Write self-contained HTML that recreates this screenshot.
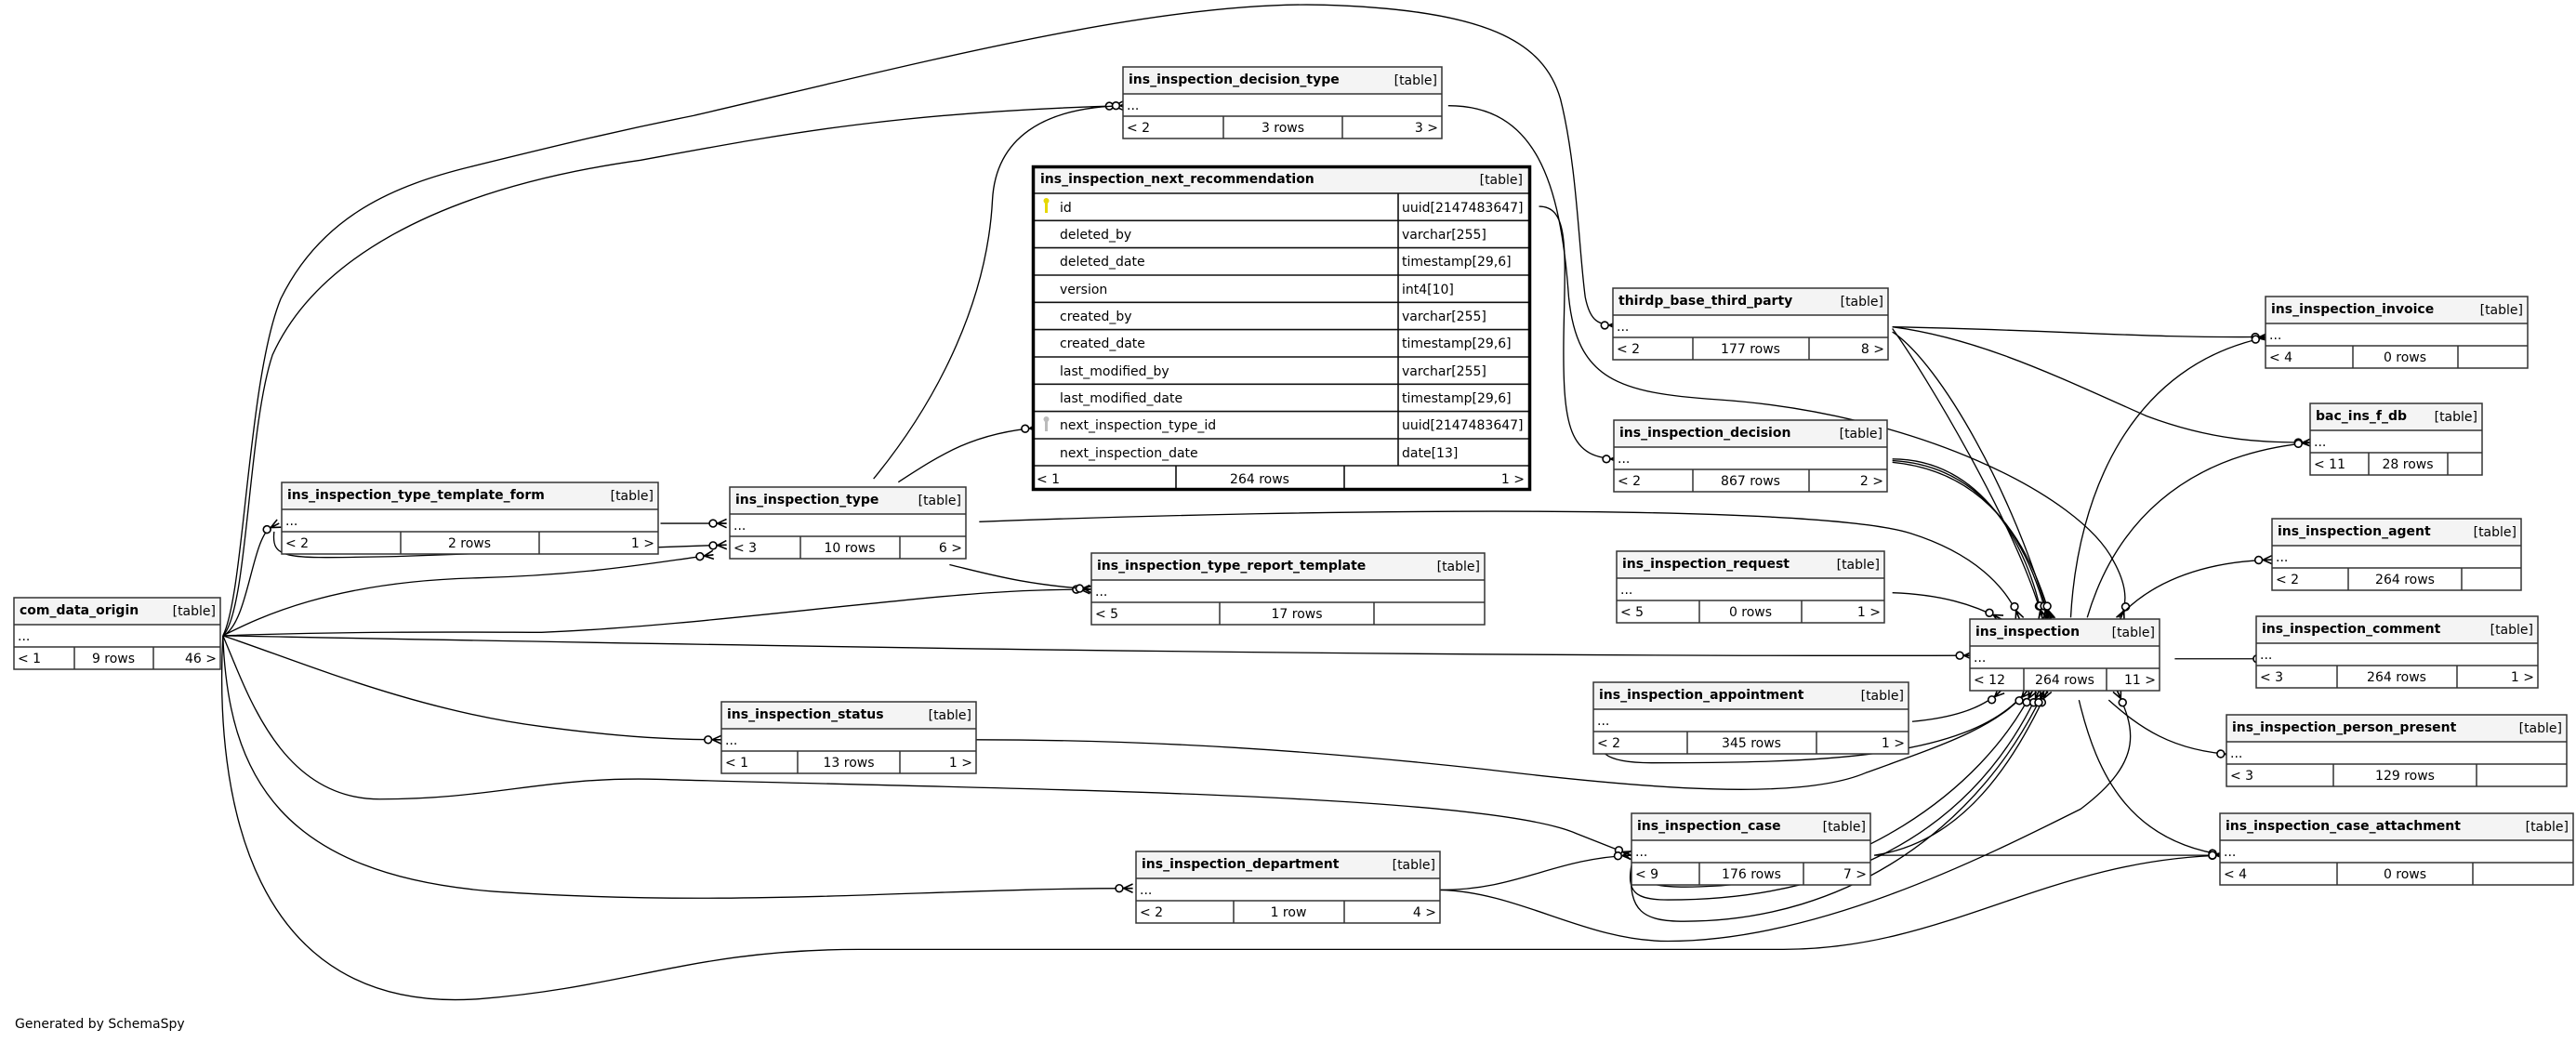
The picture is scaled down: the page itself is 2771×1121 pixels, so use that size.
<!DOCTYPE html>
<html><head><meta charset="utf-8"><style>
html,body{margin:0;padding:0;background:#fff;}
svg{display:block;}
text{font-family:"DejaVu Sans","Liberation Sans",sans-serif;font-size:14px;fill:#000;}
.h{font-weight:bold;}
.t{fill:#f4f4f4;stroke:none;}
.b{fill:none;stroke:#333;stroke-width:1.5;}
.e path{fill:none;stroke:#000;stroke-width:0.75;}
</style></head><body>
<svg width="2771" height="1121" viewBox="0 0 2771 1121" xmlns="http://www.w3.org/2000/svg">
<defs>
<marker id="cf" markerUnits="userSpaceOnUse" viewBox="-12 -4 13 8" refX="0" refY="0" markerWidth="13" markerHeight="8" orient="auto">
<circle cx="-8.2" cy="0" r="2.2" fill="#fff" stroke="#000" stroke-width="0.9"/>
<path d="M-5.6,0 L0,-2.6 M-5.6,0 L0,0 M-5.6,0 L0,2.6" stroke="#000" stroke-width="0.9" fill="none"/>
</marker>
</defs>
<rect width="2771" height="1121" fill="#fff"/>

<g class="e" transform="scale(1.7763)">
<!-- com_data_origin edges -->
<path marker-end="url(#cf)" d="M135,385 C148,360 150,230 170,181 C195,130 240,112 285,101 C350,85 380,78 420,70 C550,40 700,0 802,3 C900,6 935,25 945,60 C955,100 956,150 960,180 C963,195 968,197 980,197"/>
<path marker-end="url(#cf)" d="M135,385 C150,370 150,260 165,215 C190,160 260,115 388,97 C470,82 540,68 680,64"/>
<path marker-end="url(#cf)" d="M135,385 C150,378 152,330 163,320 L169,317"/>
<path marker-end="url(#cf)" d="M135,385 C155,375 200,352 290,350 C360,348 400,340 432,336"/>
<path marker-end="url(#cf)" d="M135,385 C220,382 300,383 328,383 C400,380 480,370 543,364 C600,358 630,357 660,357"/>
<path marker-end="url(#cf)" d="M135,385 C400,390 800,398 1195,397"/>
<path marker-end="url(#cf)" d="M135,385 C180,400 250,430 328,440 C380,447 410,448 437,448"/>
<path marker-end="url(#cf)" d="M135,385 C150,420 170,484 230,484 C300,484 330,470 400,472 C600,478 900,480 955,505 L988,518"/>
<path marker-end="url(#cf)" d="M135,385 C138,470 170,530 300,540 C450,550 560,538 686,538"/>
<path marker-end="url(#cf)" d="M135,385 C130,480 150,615 290,605 C380,598 420,575 520,575 L1080,575 C1180,575 1240,520 1348,518"/>
<!-- template / type -->
<path marker-end="url(#cf)" d="M400,317 L440,317"/>
<path marker-end="url(#cf)" d="M166,322 C164,340 175,338 240,337 C330,334 400,332 440,330"/>
<path marker-end="url(#cf)" d="M529,290 C570,240 598,180 601,121 C603,85 630,64 684,64"/>
<path marker-end="url(#cf)" d="M544,292 C570,275 590,262 629,259"/>
<path marker-end="url(#cf)" d="M575,342 C600,348 620,354 662,357"/>
<path marker-end="url(#cf)" d="M593,316 C800,308 1100,305 1157,323 C1195,335 1215,355 1223,375"/>
<!-- decision_type / next_rec -->
<path marker-end="url(#cf)" d="M877,64 C930,64 945,110 950,180 C955,230 980,238 1040,242 C1160,250 1260,300 1280,340 C1290,358 1287,368 1284,375"/>
<path marker-end="url(#cf)" d="M932,125 C950,125 948,150 947,200 C946,260 950,278 981,278"/>
<!-- thirdp -->
<path marker-end="url(#cf)" d="M1146,198 C1250,200 1300,205 1374,204"/>
<path marker-end="url(#cf)" d="M1146,198 C1200,205 1250,230 1300,252 C1340,267 1370,268 1400,268"/>
<path marker-end="url(#cf)" d="M1146,199 C1165,225 1222,320 1237,375"/>
<path marker-end="url(#cf)" d="M1146,201 C1175,220 1220,300 1241,375"/>
<!-- decision -->
<path marker-end="url(#cf)" d="M1146,278 C1200,278 1228,330 1237,375"/>
<path marker-end="url(#cf)" d="M1146,279 C1205,282 1230,335 1240,375"/>
<path marker-end="url(#cf)" d="M1146,280 C1210,286 1232,340 1242,375"/>
<!-- request -->
<path marker-end="url(#cf)" d="M1146,359 C1175,360 1195,366 1212,375"/>
<!-- ins_inspection children -->
<path marker-end="url(#cf)" d="M1254,374 C1258,300 1290,220 1374,204"/>
<path marker-end="url(#cf)" d="M1264,374 C1280,320 1320,275 1400,268"/>
<path marker-end="url(#cf)" d="M1283,374 C1300,355 1330,340 1376,339"/>
<path marker-end="url(#cf)" d="M1317,399 L1375,399"/>
<path marker-end="url(#cf)" d="M1277,424 C1295,440 1315,455 1353,457"/>
<path marker-end="url(#cf)" d="M1259,424 C1270,470 1290,510 1348,518"/>
<!-- department -->
<path marker-end="url(#cf)" d="M872,539 C920,539 940,520 988,518"/>
<path marker-end="url(#cf)" d="M872,539 C920,540 960,570 1010,570 C1100,570 1200,520 1260,490 C1300,460 1292,440 1282,418"/>
<!-- case -->
<path marker-end="url(#cf)" d="M1135,518 L1348,518"/>
<path marker-end="url(#cf)" d="M1135,518 C1190,510 1220,460 1240,418"/>
<path marker-end="url(#cf)" d="M990,522 C992,535 1000,538 1030,537 C1120,535 1200,480 1231,418"/>
<path marker-end="url(#cf)" d="M988,524 C985,540 990,545 1010,545 C1100,545 1190,515 1235,418"/>
<path marker-end="url(#cf)" d="M988,526 C986,552 995,558 1020,558 C1120,558 1200,500 1238,418"/>
<!-- appointment -->
<path marker-end="url(#cf)" d="M1158,437 C1180,435 1200,430 1212,418"/>
<path marker-end="url(#cf)" d="M1225,421 C1190,460 1100,462 1000,462 C970,462 966,455 969,440"/>
<!-- status -->
<path marker-end="url(#cf)" d="M591,448 C700,448 800,455 900,466 C1000,478 1090,485 1130,468 C1180,450 1210,440 1228,418"/>
</g>

<g id="tables">
<rect x="15" y="643" width="222" height="77" fill="#fff"/><rect class="t" x="15" y="643" width="222" height="29"/>
<rect class="b" x="15" y="643" width="222" height="77"/><path class="b" d="M15,672H237M15,696H237M80,696V720M165,696V720"/>
<text class="h" x="21" y="661">com_data_origin</text><text x="232" y="662" text-anchor="end">[table]</text>
<text x="19" y="689">...</text><text x="19" y="713">&lt; 1</text><text x="122" y="713" text-anchor="middle">9 rows</text><text x="233" y="713" text-anchor="end">46 &gt;</text>

<rect x="303" y="519" width="405" height="77" fill="#fff"/><rect class="t" x="303" y="519" width="405" height="29"/>
<rect class="b" x="303" y="519" width="405" height="77"/><path class="b" d="M303,548H708M303,572H708M431,572V596M580,572V596"/>
<text class="h" x="309" y="537">ins_inspection_type_template_form</text><text x="703" y="538" text-anchor="end">[table]</text>
<text x="307" y="565">...</text><text x="307" y="589">&lt; 2</text><text x="505" y="589" text-anchor="middle">2 rows</text><text x="704" y="589" text-anchor="end">1 &gt;</text>

<rect x="785" y="524" width="254" height="77" fill="#fff"/><rect class="t" x="785" y="524" width="254" height="29"/>
<rect class="b" x="785" y="524" width="254" height="77"/><path class="b" d="M785,553H1039M785,577H1039M861,577V601M968,577V601"/>
<text class="h" x="791" y="542">ins_inspection_type</text><text x="1034" y="543" text-anchor="end">[table]</text>
<text x="789" y="570">...</text><text x="789" y="594">&lt; 3</text><text x="914" y="594" text-anchor="middle">10 rows</text><text x="1035" y="594" text-anchor="end">6 &gt;</text>

<rect x="1174" y="595" width="423" height="77" fill="#fff"/><rect class="t" x="1174" y="595" width="423" height="29"/>
<rect class="b" x="1174" y="595" width="423" height="77"/><path class="b" d="M1174,624H1597M1174,648H1597M1312,648V672M1478,648V672"/>
<text class="h" x="1180" y="613">ins_inspection_type_report_template</text><text x="1592" y="614" text-anchor="end">[table]</text>
<text x="1178" y="641">...</text><text x="1178" y="665">&lt; 5</text><text x="1395" y="665" text-anchor="middle">17 rows</text>

<rect x="776" y="755" width="274" height="77" fill="#fff"/><rect class="t" x="776" y="755" width="274" height="29"/>
<rect class="b" x="776" y="755" width="274" height="77"/><path class="b" d="M776,784H1050M776,808H1050M858,808V832M968,808V832"/>
<text class="h" x="782" y="773">ins_inspection_status</text><text x="1045" y="774" text-anchor="end">[table]</text>
<text x="780" y="801">...</text><text x="780" y="825">&lt; 1</text><text x="913" y="825" text-anchor="middle">13 rows</text><text x="1046" y="825" text-anchor="end">1 &gt;</text>

<rect x="1222" y="916" width="327" height="77" fill="#fff"/><rect class="t" x="1222" y="916" width="327" height="29"/>
<rect class="b" x="1222" y="916" width="327" height="77"/><path class="b" d="M1222,945H1549M1222,969H1549M1327,969V993M1446,969V993"/>
<text class="h" x="1228" y="934">ins_inspection_department</text><text x="1544" y="935" text-anchor="end">[table]</text>
<text x="1226" y="962">...</text><text x="1226" y="986">&lt; 2</text><text x="1386" y="986" text-anchor="middle">1 row</text><text x="1545" y="986" text-anchor="end">4 &gt;</text>

<rect x="1208" y="72" width="343" height="77" fill="#fff"/><rect class="t" x="1208" y="72" width="343" height="29"/>
<rect class="b" x="1208" y="72" width="343" height="77"/><path class="b" d="M1208,101H1551M1208,125H1551M1316,125V149M1444,125V149"/>
<text class="h" x="1214" y="90">ins_inspection_decision_type</text><text x="1546" y="91" text-anchor="end">[table]</text>
<text x="1212" y="118">...</text><text x="1212" y="142">&lt; 2</text><text x="1380" y="142" text-anchor="middle">3 rows</text><text x="1547" y="142" text-anchor="end">3 &gt;</text>

<rect x="1110" y="178" width="537" height="350" fill="#fff"/><rect class="t" x="1110" y="178" width="537" height="30"/>
<path d="M1110,208H1647M1110,237.3H1647M1110,266.6H1647M1110,296H1647M1110,325.3H1647M1110,354.6H1647M1110,384H1647M1110,413.3H1647M1110,442.6H1647M1110,472H1647M1110,501H1647M1504,208V501M1265,501V528M1446,501V528" stroke="#111" stroke-width="1.6" fill="none"/>
<rect x="1111.5" y="179.5" width="534" height="347" fill="none" stroke="#000" stroke-width="3.5"/>
<text class="h" x="1119" y="197">ins_inspection_next_recommendation</text><text x="1638" y="198" text-anchor="end">[table]</text>
<rect x="1124" y="216" width="3" height="13" fill="#e6d800"/><circle cx="1125.5" cy="216" r="3" fill="#e6d800"/>
<rect x="1124" y="451" width="3" height="13" fill="#bbb"/><circle cx="1125.5" cy="451" r="3" fill="#bbb"/>
<text x="1140" y="228">id</text><text x="1508" y="228">uuid[2147483647]</text>
<text x="1140" y="257">deleted_by</text><text x="1508" y="257">varchar[255]</text>
<text x="1140" y="286">deleted_date</text><text x="1508" y="286">timestamp[29,6]</text>
<text x="1140" y="316">version</text><text x="1508" y="316">int4[10]</text>
<text x="1140" y="345">created_by</text><text x="1508" y="345">varchar[255]</text>
<text x="1140" y="374">created_date</text><text x="1508" y="374">timestamp[29,6]</text>
<text x="1140" y="404">last_modified_by</text><text x="1508" y="404">varchar[255]</text>
<text x="1140" y="433">last_modified_date</text><text x="1508" y="433">timestamp[29,6]</text>
<text x="1140" y="462">next_inspection_type_id</text><text x="1508" y="462">uuid[2147483647]</text>
<text x="1140" y="492">next_inspection_date</text><text x="1508" y="492">date[13]</text>
<text x="1115" y="520">&lt; 1</text><text x="1355" y="520" text-anchor="middle">264 rows</text><text x="1640" y="520" text-anchor="end">1 &gt;</text>

<rect x="1735" y="310" width="296" height="77" fill="#fff"/><rect class="t" x="1735" y="310" width="296" height="29"/>
<rect class="b" x="1735" y="310" width="296" height="77"/><path class="b" d="M1735,339H2031M1735,363H2031M1821,363V387M1946,363V387"/>
<text class="h" x="1741" y="328">thirdp_base_third_party</text><text x="2026" y="329" text-anchor="end">[table]</text>
<text x="1739" y="356">...</text><text x="1739" y="380">&lt; 2</text><text x="1883" y="380" text-anchor="middle">177 rows</text><text x="2027" y="380" text-anchor="end">8 &gt;</text>

<rect x="1736" y="452" width="294" height="77" fill="#fff"/><rect class="t" x="1736" y="452" width="294" height="29"/>
<rect class="b" x="1736" y="452" width="294" height="77"/><path class="b" d="M1736,481H2030M1736,505H2030M1821,505V529M1946,505V529"/>
<text class="h" x="1742" y="470">ins_inspection_decision</text><text x="2025" y="471" text-anchor="end">[table]</text>
<text x="1740" y="498">...</text><text x="1740" y="522">&lt; 2</text><text x="1883" y="522" text-anchor="middle">867 rows</text><text x="2026" y="522" text-anchor="end">2 &gt;</text>

<rect x="1739" y="593" width="288" height="77" fill="#fff"/><rect class="t" x="1739" y="593" width="288" height="29"/>
<rect class="b" x="1739" y="593" width="288" height="77"/><path class="b" d="M1739,622H2027M1739,646H2027M1828,646V670M1938,646V670"/>
<text class="h" x="1745" y="611">ins_inspection_request</text><text x="2022" y="612" text-anchor="end">[table]</text>
<text x="1743" y="639">...</text><text x="1743" y="663">&lt; 5</text><text x="1883" y="663" text-anchor="middle">0 rows</text><text x="2023" y="663" text-anchor="end">1 &gt;</text>

<rect x="2119" y="666" width="204" height="77" fill="#fff"/><rect class="t" x="2119" y="666" width="204" height="29"/>
<rect class="b" x="2119" y="666" width="204" height="77"/><path class="b" d="M2119,695H2323M2119,719H2323M2177,719V743M2266,719V743"/>
<text class="h" x="2125" y="684">ins_inspection</text><text x="2318" y="685" text-anchor="end">[table]</text>
<text x="2123" y="712">...</text><text x="2123" y="736">&lt; 12</text><text x="2221" y="736" text-anchor="middle">264 rows</text><text x="2319" y="736" text-anchor="end">11 &gt;</text>

<rect x="1714" y="734" width="339" height="77" fill="#fff"/><rect class="t" x="1714" y="734" width="339" height="29"/>
<rect class="b" x="1714" y="734" width="339" height="77"/><path class="b" d="M1714,763H2053M1714,787H2053M1815,787V811M1954,787V811"/>
<text class="h" x="1720" y="752">ins_inspection_appointment</text><text x="2048" y="753" text-anchor="end">[table]</text>
<text x="1718" y="780">...</text><text x="1718" y="804">&lt; 2</text><text x="1884" y="804" text-anchor="middle">345 rows</text><text x="2049" y="804" text-anchor="end">1 &gt;</text>

<rect x="1755" y="875" width="257" height="77" fill="#fff"/><rect class="t" x="1755" y="875" width="257" height="29"/>
<rect class="b" x="1755" y="875" width="257" height="77"/><path class="b" d="M1755,904H2012M1755,928H2012M1828,928V952M1940,928V952"/>
<text class="h" x="1761" y="893">ins_inspection_case</text><text x="2007" y="894" text-anchor="end">[table]</text>
<text x="1759" y="921">...</text><text x="1759" y="945">&lt; 9</text><text x="1884" y="945" text-anchor="middle">176 rows</text><text x="2008" y="945" text-anchor="end">7 &gt;</text>

<rect x="2437" y="319" width="282" height="77" fill="#fff"/><rect class="t" x="2437" y="319" width="282" height="29"/>
<rect class="b" x="2437" y="319" width="282" height="77"/><path class="b" d="M2437,348H2719M2437,372H2719M2531,372V396M2644,372V396"/>
<text class="h" x="2443" y="337">ins_inspection_invoice</text><text x="2714" y="338" text-anchor="end">[table]</text>
<text x="2441" y="365">...</text><text x="2441" y="389">&lt; 4</text><text x="2587" y="389" text-anchor="middle">0 rows</text>

<rect x="2485" y="434" width="185" height="77" fill="#fff"/><rect class="t" x="2485" y="434" width="185" height="29"/>
<rect class="b" x="2485" y="434" width="185" height="77"/><path class="b" d="M2485,463H2670M2485,487H2670M2548,487V511M2633,487V511"/>
<text class="h" x="2491" y="452">bac_ins_f_db</text><text x="2665" y="453" text-anchor="end">[table]</text>
<text x="2489" y="480">...</text><text x="2489" y="504">&lt; 11</text><text x="2590" y="504" text-anchor="middle">28 rows</text>

<rect x="2444" y="558" width="268" height="77" fill="#fff"/><rect class="t" x="2444" y="558" width="268" height="29"/>
<rect class="b" x="2444" y="558" width="268" height="77"/><path class="b" d="M2444,587H2712M2444,611H2712M2526,611V635M2648,611V635"/>
<text class="h" x="2450" y="576">ins_inspection_agent</text><text x="2707" y="577" text-anchor="end">[table]</text>
<text x="2448" y="604">...</text><text x="2448" y="628">&lt; 2</text><text x="2587" y="628" text-anchor="middle">264 rows</text>

<rect x="2427" y="663" width="303" height="77" fill="#fff"/><rect class="t" x="2427" y="663" width="303" height="29"/>
<rect class="b" x="2427" y="663" width="303" height="77"/><path class="b" d="M2427,692H2730M2427,716H2730M2514,716V740M2643,716V740"/>
<text class="h" x="2433" y="681">ins_inspection_comment</text><text x="2725" y="682" text-anchor="end">[table]</text>
<text x="2431" y="709">...</text><text x="2431" y="733">&lt; 3</text><text x="2578" y="733" text-anchor="middle">264 rows</text><text x="2726" y="733" text-anchor="end">1 &gt;</text>

<rect x="2395" y="769" width="366" height="77" fill="#fff"/><rect class="t" x="2395" y="769" width="366" height="29"/>
<rect class="b" x="2395" y="769" width="366" height="77"/><path class="b" d="M2395,798H2761M2395,822H2761M2510,822V846M2664,822V846"/>
<text class="h" x="2401" y="787">ins_inspection_person_present</text><text x="2756" y="788" text-anchor="end">[table]</text>
<text x="2399" y="815">...</text><text x="2399" y="839">&lt; 3</text><text x="2587" y="839" text-anchor="middle">129 rows</text>

<rect x="2388" y="875" width="380" height="77" fill="#fff"/><rect class="t" x="2388" y="875" width="380" height="29"/>
<rect class="b" x="2388" y="875" width="380" height="77"/><path class="b" d="M2388,904H2768M2388,928H2768M2514,928V952M2660,928V952"/>
<text class="h" x="2394" y="893">ins_inspection_case_attachment</text><text x="2763" y="894" text-anchor="end">[table]</text>
<text x="2392" y="921">...</text><text x="2392" y="945">&lt; 4</text><text x="2587" y="945" text-anchor="middle">0 rows</text>
</g>

<text x="16" y="1106">Generated by SchemaSpy</text>
</svg>
</body></html>
